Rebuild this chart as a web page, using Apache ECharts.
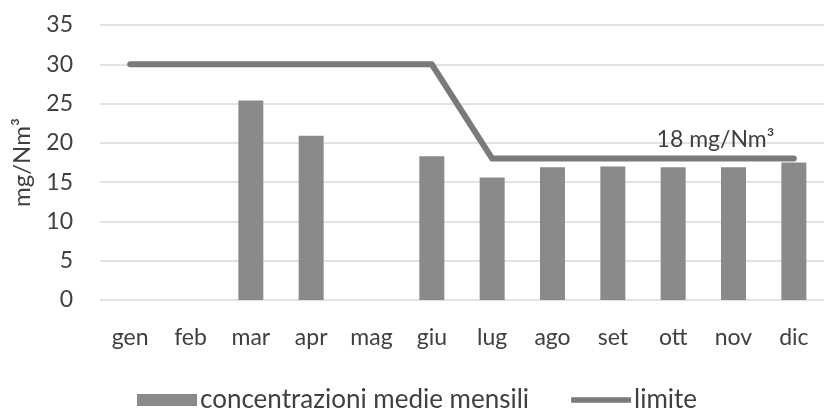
<!DOCTYPE html>
<html><head><meta charset="utf-8">
<script src="https://cdn.jsdelivr.net/npm/echarts@6/dist/echarts.min.js"></script>
<style>html,body{margin:0;padding:0;background:#fff}#c{width:824px;height:414px}</style>
</head><body><div id="c"></div>
<script>
const months = ['gen','feb','mar','apr','mag','giu','lug','ago','set','ott','nov','dic'];
const concentrazioni = [null, null, 25.4, 20.9, null, 18.3, 15.6, 16.9, 17.0, 16.9, 16.9, 17.5];
const limite = [30, 30, 30, 30, 30, 30, 18, 18, 18, 18, 18, 18];
const yTicks = {min: 0, max: 35, interval: 5};
const limitLabel = '18 mg/Nm³';
const labelMonthIndex = 10;

const FONT = 'Lato, "Open Sans", sans-serif';
const chart = echarts.init(document.getElementById('c'));
chart.setOption({
  animation: false,
  textStyle: {fontFamily: FONT},
  grid: {left: 100, right: -2, top: 25, bottom: 114},
  legend: {
    bottom: -4, left: 132, itemGap: 42, itemWidth: 60, itemHeight: 12,
    textStyle: {fontSize: 26, color: '#404040', fontFamily: FONT, padding: [0,0,0,-2]},
    data: [
      {name: 'concentrazioni medie mensili', icon: 'rect'},
      {name: 'limite', icon: 'path://M0,0H64V6H0Z'}
    ]
  },
  xAxis: {
    type: 'category', data: months,
    axisLine: {show: false}, axisTick: {show: false},
    axisLabel: {fontSize: 23, color: '#404040', margin: 26}
  },
  yAxis: {
    type: 'value', min: yTicks.min, max: yTicks.max, interval: yTicks.interval,
    name: 'mg/Nm³', nameLocation: 'middle', nameGap: 66, nameRotate: 90,
    nameTextStyle: {fontSize: 24, color: '#404040'},
    axisLabel: {fontSize: 23, color: '#404040', margin: 27},
    splitLine: {lineStyle: {color: '#d9d9d9', width: 1.5}}
  },
  series: [
    {
      name: 'concentrazioni medie mensili', type: 'bar', data: concentrazioni,
      barWidth: 25, itemStyle: {color: '#8a8a8a'}
    },
    {
      name: 'limite', type: 'line',
      data: limite.map((v, i) => i === labelMonthIndex ? {value: v, label: {
        show: true, formatter: limitLabel, position: 'top', offset: [-18, -2],
        fontSize: 23, color: '#404040'}} : v),
      symbol: 'circle', symbolSize: 0, showSymbol: true,
      lineStyle: {color: '#7a7a7a', width: 6, cap: 'round', join: 'round'},
      itemStyle: {color: '#7a7a7a'}
    }
  ]
});
</script></body></html>
